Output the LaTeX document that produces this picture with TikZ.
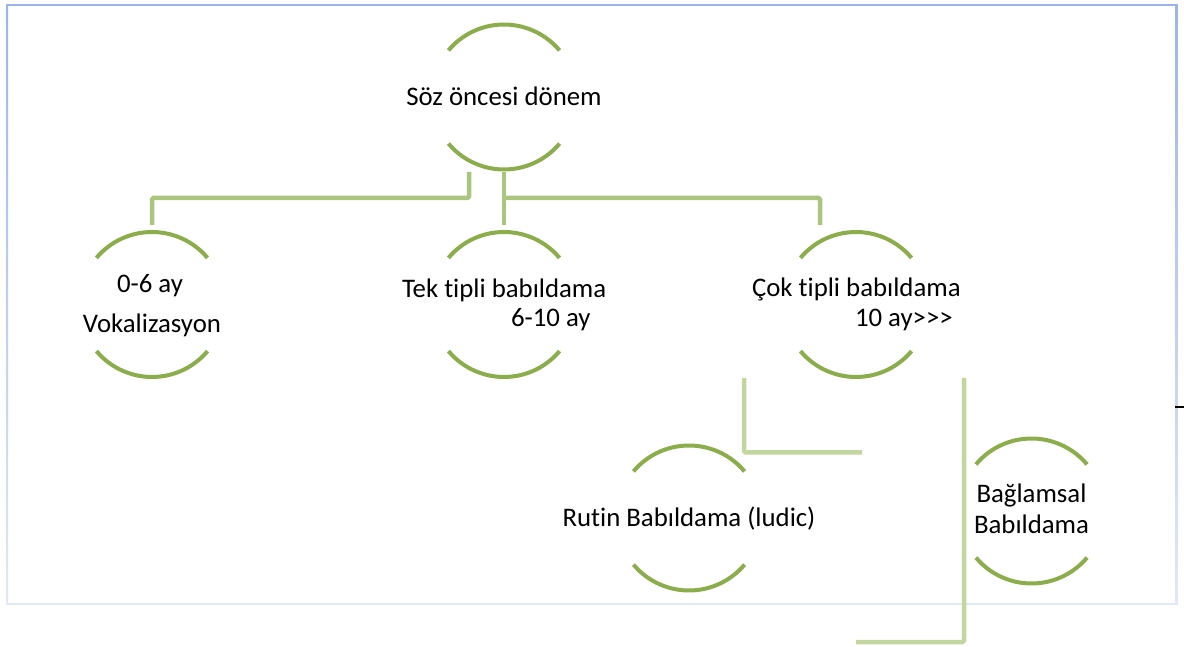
\documentclass[tikz,border=0pt]{standalone}
\usepackage{fontspec}
\setmainfont{Carlito}[Ligatures={NoCommon,NoContextual}]
\usetikzlibrary{calc}
\definecolor{arcgreen}{RGB}{140,173,76}
\definecolor{conngreen}{RGB}{170,197,126}
\definecolor{connpale}{RGB}{196,214,160}
\definecolor{bordertop}{RGB}{155,181,232}
\definecolor{borderbot}{RGB}{226,232,246}
\begin{document}
\begin{tikzpicture}[x=1pt,y=1pt,
  hub/.style={circle,draw=none,minimum size=145pt,inner sep=0pt,outer sep=0pt},
  txt/.style={inner sep=0pt,outer sep=0pt,font=\fontsize{26.8}{30}\selectfont,text=black},
  arcst/.style={draw=arcgreen,line width=4pt},
  conn/.style={draw=conngreen,line width=4.5pt,rounded corners=1.5pt},
  connp/.style={draw=connpale,line width=4.5pt,rounded corners=1.5pt}]
\useasboundingbox (0,0) rectangle (1184,646);
% frame
\shade[top color=bordertop,bottom color=borderbot] (6,42) rectangle (8,641);
\shade[top color=bordertop,bottom color=borderbot] (1175.5,42) rectangle (1177.5,641);
\fill[bordertop] (6,640) rectangle (1177.5,642);
\fill[borderbot] (6,41) rectangle (1177.5,43);
\draw[black,line width=1.5pt] (1175,239) -- (1184,239);
% hubs
\node[hub] (root) at (504,549) {};
\node[hub] (a) at (152,341.5) {};
\node[hub] (b) at (504,341.5) {};
\node[hub] (c) at (856,341.5) {};
\node[hub] (d) at (689,128) {};
\node[hub] (e) at (1031.5,135) {};
\foreach \n in {root,a,b,c,d,e}{
  \draw[arcst] (\n.40) arc[start angle=40,end angle=140,radius=72.5];
  \draw[arcst] (\n.220) arc[start angle=220,end angle=320,radius=72.5];
}
% texts
\node[txt,anchor=base] (rootT) at (504,540) {Söz öncesi dönem};
\node[txt,anchor=base] (aT1) at (150,353.3) {0-6 ay};
\node[txt,anchor=base] (aT2) at (152,313) {Vokalizasyon};
\node[txt,anchor=base west] (bT1) at (402,348) {Tek tipli babıldama};
\node[txt,anchor=base west] (bT2) at (511,319) {6-10 ay};
\node[txt,anchor=base west] (cT1) at (752,349) {Çok tipli babıldama};
\node[txt,anchor=base west] (cT2) at (855,319) {10 ay>\kern0pt>\kern0pt>};
\node[txt,anchor=base] (dT) at (689,120) {Rutin Babıldama (ludic)};
\node[txt,anchor=base] (eT1) at (1031.5,143) {Bağlamsal};
\node[txt,anchor=base] (eT2) at (1031.5,113) {Babıldama};
% connectors
\draw[conn] ($(root.south)+(-35,-2.5)$) |- ($(a.north)+(0,34)$) -- ($(a.north)+(0,7)$);
\draw[conn] ($(root.south)+(0,-3)$) -- ($(b.north)+(0,7)$);
\draw[conn] ($(root.south)+(0,-28.5)$) -| ($(c.north)+(-36,7)$);
\draw[connp] ($(c.south)+(-112,-1)$) |- ($(d.north)+(173,-7)$);
\draw[connp] ($(c.south)+(108,-1)$) |- ($(e.south)+(-175.5,-58.5)$);
\end{tikzpicture}
\end{document}
